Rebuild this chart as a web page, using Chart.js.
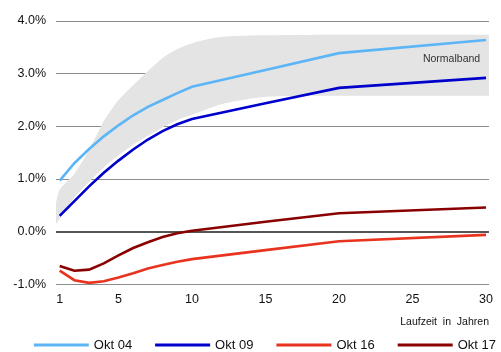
<!DOCTYPE html>
<html>
<head>
<meta charset="utf-8">
<script src="https://cdn.jsdelivr.net/npm/chart.js@4.4.1/dist/chart.umd.min.js"></script>
<style>
  html, body { margin: 0; padding: 0; background: #fff; }
  #wrap { width: 501px; height: 352px; }
</style>
</head>
<body>
<div id="wrap"><canvas id="curves"></canvas></div>
<script>
// maturities (years) and yields in percent
var years = [1, 2, 3, 4, 5, 6, 7, 8, 9, 10, 15, 20, 30];
var okt04 = [0.97, 1.30, 1.57, 1.81, 2.02, 2.21, 2.37, 2.50, 2.63, 2.75, 3.07, 3.39, 3.64];
var okt09 = [0.30, 0.58, 0.86, 1.12, 1.35, 1.56, 1.75, 1.91, 2.04, 2.14, 2.44, 2.73, 2.92];
var okt16 = [-0.74, -0.92, -0.97, -0.94, -0.87, -0.79, -0.70, -0.63, -0.57, -0.52, -0.35, -0.18, -0.06];
var okt17 = [-0.65, -0.74, -0.72, -0.60, -0.45, -0.31, -0.20, -0.10, -0.03, 0.02, 0.19, 0.35, 0.46];

// grey "Normalband" (upper / lower edge)
var bandYears = [0.75, 1, 2, 3, 4, 5, 6, 7, 8, 9, 10, 12, 15, 20, 30, 30.2];
var bandUpper = [0.55, 0.80, 1.10, 1.55, 2.10, 2.50, 2.78, 3.05, 3.30, 3.47, 3.58, 3.70, 3.73, 3.74, 3.74, 3.74];
var bandLower = [0.15, 0.25, 0.65, 0.95, 1.22, 1.45, 1.65, 1.82, 1.98, 2.12, 2.22, 2.42, 2.56, 2.58, 2.58, 2.58];

var xTicks = [1, 5, 10, 15, 20, 25, 30];
var labels = ['Okt 04', 'Okt 09', 'Okt 16', 'Okt 17'];
var colors = ['#5cb5f6', '#0000cc', '#e8331f', '#8a0000'];

var FONT = "'Liberation Sans', Arial, sans-serif";

function pts(xs, ys) {
    return xs.map(function (x, i) { return {x: x, y: ys[i]}; });
}

var series = [okt04, okt09, okt16, okt17].map(function (vals, i) {
    return {
        label: labels[i],
        data: pts(years, vals),
        borderColor: colors[i],
        backgroundColor: colors[i],
        borderWidth: 2.6,
        pointRadius: 0,
        tension: 0,
        fill: false
    };
});

// band: lower edge first (invisible), upper fills down to it
series.push({
    label: 'bandLower',
    data: pts(bandYears, bandLower),
    borderWidth: 0,
    borderColor: 'rgba(0,0,0,0)',
    pointRadius: 0,
    tension: 0.2,
    fill: false
});
series.push({
    label: 'bandUpper',
    data: pts(bandYears, bandUpper),
    borderWidth: 0,
    borderColor: 'rgba(0,0,0,0)',
    backgroundColor: '#e4e4e4',
    pointRadius: 0,
    tension: 0.2,
    fill: 4
});

// "Normalband" text and the line legend under the axis
var extras = {
    id: 'extras',
    afterDraw: function (chart) {
        var c = chart.ctx;
        c.save();
        c.font = '10.5px ' + FONT;
        c.fillStyle = '#333';
        c.textAlign = 'right';
        c.textBaseline = 'middle';
        c.fillText('Normalband', chart.scales.x.getPixelForValue(29.6), chart.scales.y.getPixelForValue(3.28));

        // legend
        c.font = '13px ' + FONT;
        c.textAlign = 'left';
        c.fillStyle = '#111';
        var lineW = 55, gap = 5, itemGap = 23;
        var ds = chart.data.datasets.slice(0, 4);
        var total = 0;
        ds.forEach(function (d, i) {
            total += lineW + gap + c.measureText(d.label).width + (i < 3 ? itemGap : 0);
        });
        var x = chart.width - 5 - total;
        var y = chart.height - 7;
        ds.forEach(function (d) {
            c.strokeStyle = d.borderColor;
            c.lineWidth = 3;
            c.beginPath();
            c.moveTo(x, y);
            c.lineTo(x + lineW, y);
            c.stroke();
            x += lineW + gap;
            c.fillText(d.label, x, y);
            x += c.measureText(d.label).width + itemGap;
        });
        c.restore();
    }
};

new Chart(document.getElementById('curves'), {
    type: 'line',
    data: {datasets: series},
    plugins: [extras],
    options: {
        responsive: true,
        maintainAspectRatio: false,
        animation: false,
        layout: {padding: {top: 21, right: 3, left: 0, bottom: 22}},
        plugins: {
            tooltip: {enabled: false},
            legend: {display: false}
        },
        scales: {
            x: {
                type: 'linear',
                min: 0.75,
                max: 30.2,
                afterBuildTicks: function (s) {
                    s.ticks = xTicks.map(function (v) { return {value: v}; });
                },
                grid: {display: false, drawTicks: false},
                border: {display: false},
                ticks: {
                    font: {family: FONT, size: 12.5},
                    color: '#111',
                    padding: 8,
                    maxRotation: 0,
                    autoSkip: false
                },
                title: {
                    display: true,
                    text: 'Laufzeit  in  Jahren',
                    align: 'end',
                    font: {family: FONT, size: 10.5},
                    color: '#111',
                    padding: {top: 0, bottom: 2}
                }
            },
            y: {
                min: -1,
                max: 4,
                afterFit: function (s) { s.width = 56; },
                ticks: {
                    stepSize: 1,
                    font: {family: FONT, size: 12.5},
                    color: '#111',
                    padding: 10,
                    callback: function (v) { return v.toFixed(1) + '%'; }
                },
                grid: {
                    drawTicks: false,
                    color: function (c) { return c.tick && c.tick.value === 0 ? '#555' : '#8c8c8c'; },
                    lineWidth: function (c) { return c.tick && c.tick.value === 0 ? 2 : 1; }
                },
                border: {display: false}
            }
        }
    }
});
</script>
</body>
</html>
